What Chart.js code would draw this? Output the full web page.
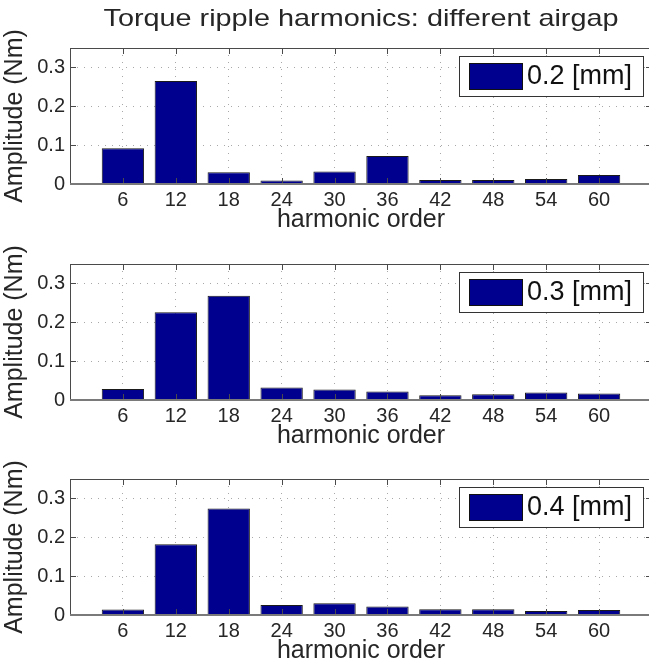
<!DOCTYPE html>
<html>
<head>
<meta charset="utf-8">
<script src="https://cdn.jsdelivr.net/npm/chart.js@4.4.0/dist/chart.umd.min.js"></script>
<style>
  html, body { margin: 0; padding: 0; background: #fff; overflow: hidden; }
  body { width: 649px; height: 671px; position: relative; }
  canvas { position: absolute; left: 0; }
</style>
</head>
<body>
<canvas id="gap02" width="660" height="240" style="top:0px"></canvas>
<canvas id="gap03" width="660" height="240" style="top:216px"></canvas>
<canvas id="gap04" width="660" height="240" style="top:431px"></canvas>
<script>
// harmonic orders on the x axis
const orders = [6, 12, 18, 24, 30, 36, 42, 48, 54, 60];
// torque ripple amplitude (Nm) per harmonic, one array per airgap
const amp02 = [0.092, 0.265, 0.030, 0.009, 0.032, 0.072, 0.010, 0.010, 0.013, 0.023];
const amp03 = [0.028, 0.226, 0.268, 0.032, 0.027, 0.022, 0.012, 0.015, 0.019, 0.017];
const amp04 = [0.014, 0.182, 0.274, 0.026, 0.030, 0.022, 0.015, 0.015, 0.010, 0.013];
const yTicks = [0, 0.1, 0.2, 0.3];

const FONT = '"Liberation Sans", Arial, Helvetica, sans-serif';
const BAR = '#00008f';
const INK = '#262626';

// matlab-like box: full frame plus inward tick marks
const boxPlugin = {
  id: 'boxFrame',
  afterDraw(chart) {
    const { ctx, chartArea: a, scales } = chart;
    ctx.save();
    ctx.strokeStyle = '#4a4a4a';
    ctx.lineWidth = 1;
    ctx.strokeRect(a.left + 0.5, a.top + 0.5, a.right - a.left, a.bottom - a.top);
    ctx.beginPath();
    scales.x.ticks.forEach(t => {
      const x = Math.round(scales.x.getPixelForValue(t.value)) + 0.5;
      ctx.moveTo(x, a.bottom); ctx.lineTo(x, a.bottom - 6);
      ctx.moveTo(x, a.top); ctx.lineTo(x, a.top + 6);
    });
    scales.y.ticks.forEach(t => {
      const y = Math.round(scales.y.getPixelForValue(t.value)) + 0.5;
      ctx.moveTo(a.left, y); ctx.lineTo(a.left + 6, y);
      ctx.moveTo(a.right, y); ctx.lineTo(a.right - 6, y);
    });
    ctx.stroke();
    // bar baseline
    ctx.strokeStyle = '#7a7a7a';
    ctx.lineWidth = 2;
    ctx.beginPath();
    ctx.moveTo(a.left, a.bottom);
    ctx.lineTo(a.right, a.bottom);
    ctx.stroke();
    ctx.restore();
  }
};

// boxed legend in the upper right corner of the axes
const legendPlugin = {
  id: 'boxLegend',
  afterDraw(chart) {
    const { ctx, chartArea: a } = chart;
    const ds = chart.data.datasets[0];
    const w = 184, h = 40;
    const x = a.right - 9 - w, y = a.top + 8;
    ctx.save();
    ctx.fillStyle = '#fff';
    ctx.fillRect(x, y, w, h);
    ctx.strokeStyle = '#333';
    ctx.lineWidth = 1;
    ctx.strokeRect(x + 0.5, y + 0.5, w, h);
    ctx.fillStyle = ds.backgroundColor;
    ctx.fillRect(x + 10, y + 7, 53, 26);
    ctx.strokeStyle = '#111';
    ctx.strokeRect(x + 10.5, y + 7.5, 53, 26);
    ctx.fillStyle = '#111';
    ctx.font = '27px ' + FONT;
    ctx.textBaseline = 'middle';
    ctx.fillText(ds.label, x + 68, y + h / 2 + 1);
    ctx.restore();
  }
};

// figure title, centred over the axes (slightly widened glyphs)
const titlePlugin = {
  id: 'figTitle',
  afterDraw(chart, args, opts) {
    if (!opts.text) return;
    const { ctx, chartArea: a } = chart;
    ctx.save();
    ctx.translate((a.left + a.right) / 2, 19);
    ctx.scale(1.2, 1);
    ctx.font = '24px ' + FONT;
    ctx.fillStyle = INK;
    ctx.textAlign = 'center';
    ctx.textBaseline = 'middle';
    ctx.fillText(opts.text, 0, 0);
    ctx.restore();
  }
};

function drawPanel(id, label, values, title) {
  new Chart(document.getElementById(id), {
    type: 'bar',
    data: {
      datasets: [{
        label: label,
        data: orders.map((o, i) => ({ x: o, y: values[i] })),
        backgroundColor: BAR,
        borderColor: '#1a1a1a',
        borderWidth: 1,
        barPercentage: 0.8,
        categoryPercentage: 1.0
      }]
    },
    options: {
      responsive: false,
      animation: false,
      layout: { padding: { top: 48, right: 8, left: 0, bottom: 0 } },
      plugins: {
        legend: { display: false },
        tooltip: { enabled: false },
        figTitle: { text: title }
      },
      scales: {
        x: {
          type: 'linear',
          min: 0,
          max: 66,
          offset: false,
          afterBuildTicks: s => { s.ticks = orders.map(v => ({ value: v })); },
          afterFit: s => { s.height = 56; },
          grid: { offset: false, color: '#a8a8a8', drawTicks: false },
          border: { display: false, dash: [1, 6] },
          ticks: { color: INK, font: { family: FONT, size: 20 }, padding: 4, maxRotation: 0 },
          title: { display: true, text: 'harmonic order', color: INK, font: { family: FONT, size: 25 }, padding: { top: 0, bottom: 5 } }
        },
        y: {
          min: 0,
          max: 0.35,
          afterBuildTicks: s => { s.ticks = yTicks.map(v => ({ value: v })); },
          afterFit: s => { s.width = 70; },
          grid: { color: '#a8a8a8', drawTicks: false },
          border: { display: false, dash: [1, 6] },
          ticks: {
            color: INK,
            font: { family: FONT, size: 20 },
            padding: 5,
            callback: v => v === 0 ? '0' : v.toFixed(1)
          },
          title: { display: true, text: 'Amplitude (Nm)', color: INK, font: { family: FONT, size: 25 }, padding: { top: 0, bottom: 0 } }
        }
      }
    },
    plugins: [boxPlugin, legendPlugin, titlePlugin]
  });
}

drawPanel('gap02', '0.2 [mm]', amp02, 'Torque ripple harmonics: different airgap');
drawPanel('gap03', '0.3 [mm]', amp03, '');
drawPanel('gap04', '0.4 [mm]', amp04, '');
</script>
</body>
</html>
